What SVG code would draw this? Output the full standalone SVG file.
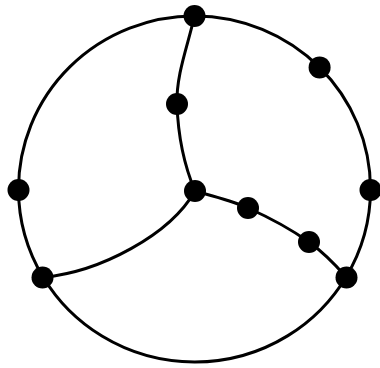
<svg xmlns="http://www.w3.org/2000/svg" width="380" height="368" viewBox="0 0 380 368">
<style>
.e{fill:none;stroke:#000;stroke-width:3;stroke-linecap:round}
.n{fill:#000}
</style>
<rect width="380" height="368" fill="#fff"/>
<g id="connectors">
<path class="e" d="M194.5,16 A176,173 0 0 1 319.6,67.4"/>
<path class="e" d="M319.6,67.4 A176,173 0 0 1 370.5,189"/>
<path class="e" d="M370.5,189 A176,173 0 0 1 346.1,276.9"/>
<path class="e" d="M346.1,276.9 A176,173 0 0 1 43.2,277.3"/>
<path class="e" d="M43.2,277.3 A176,173 0 0 1 18.5,189"/>
<path class="e" d="M18.5,189 A176,173 0 0 1 194.5,16"/>
<path class="e" d="M194.5,16 C188,45 176,75 177,104"/>
<path class="e" d="M177,104 C178,135 184,165 195,191"/>
<path class="e" d="M195,191 C203.8,193.8 229,199.5 248,208"/>
<path class="e" d="M248,208 C267,216.5 292,230 309,242"/>
<path class="e" d="M309,242 C325,253.5 340,270 346.1,276.9"/>
<path class="e" d="M195,191 C170,235 100,272 43.2,277.3"/>
</g>
<g id="n1"><circle class="n" cx="194.5" cy="16" r="11"/></g>
<g id="n2"><circle class="n" cx="319.6" cy="67.4" r="11"/></g>
<g id="n3"><circle class="n" cx="370.5" cy="190" r="11"/></g>
<g id="n4"><circle class="n" cx="346.5" cy="277.5" r="11"/></g>
<g id="n5"><circle class="n" cx="42.5" cy="277.5" r="11"/></g>
<g id="n6"><circle class="n" cx="18.5" cy="190" r="11"/></g>
<g id="n7"><circle class="n" cx="177" cy="104" r="11"/></g>
<g id="n8"><circle class="n" cx="195" cy="191" r="11"/></g>
<g id="n9"><circle class="n" cx="248" cy="208" r="11"/></g>
<g id="n10"><circle class="n" cx="309" cy="242" r="11"/></g>
</svg>
